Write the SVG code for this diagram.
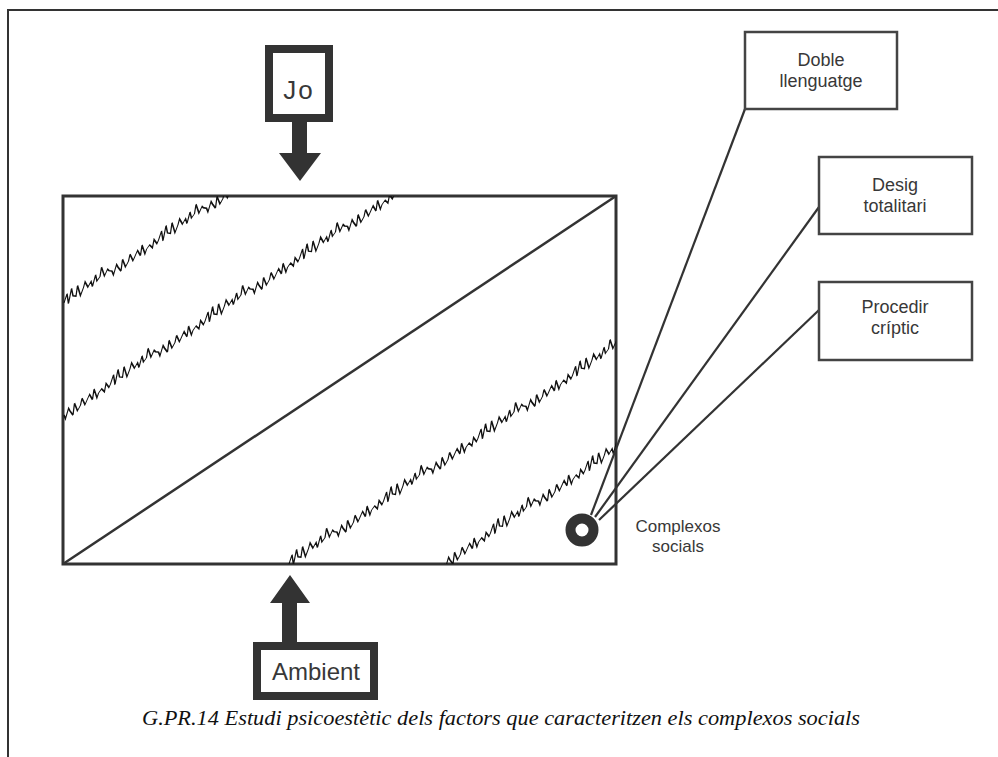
<svg xmlns="http://www.w3.org/2000/svg" width="998" height="757" viewBox="0 0 998 757">
<style>
.lbl{font-family:"Liberation Sans",Arial,sans-serif;fill:#383838;text-anchor:middle}
.thin{fill:#fff;stroke:#444;stroke-width:2.5}
.thick{fill:#fff;stroke:#333;stroke-width:8}
.arrow{fill:#333}
.conn{fill:none;stroke:#333;stroke-width:2.2}
.jag{fill:none;stroke:#111;stroke-width:0.9}
.cap{font-family:"Liberation Serif","Times New Roman",serif;font-style:italic;font-size:21px;fill:#111;text-anchor:middle}
</style>
<defs>
<clipPath id="rc"><rect x="63" y="196" width="553" height="368"/></clipPath>
</defs>
<rect width="998" height="757" fill="#fff"/>
<path d="M8,757 V10 H998" fill="none" stroke="#333" stroke-width="2"/>

<g id="frame">
<rect x="63" y="196" width="553" height="368" fill="none" stroke="#333" stroke-width="3"/>
<line x1="63" y1="564" x2="616" y2="196" stroke="#333" stroke-width="2.5"/>
<g clip-path="url(#rc)">
<path class="jag" transform="matrix(1.5,-0.998,0,1.2,64,303)" d="M0,0 l2,-6 1,9 2,-11 1,7 2,2 1,-8 2,10 2,-5 1,-4 2,6 2,-3 1,5 2,-8 1,6 2,-2 1,-7 2,9 2,-4 1,2 2,2 1,4 2,-7 1,3 2,5 1,-9 2,8 2,-3 1,-5 2,7 1,-2 2,-4 2,6 1,-8 2,9 1,-3 2,-2 2,4 1,-6 2,5 1,-2 2,-6 1,9 2,-11 1,7 2,2 1,-8 2,10 2,-5 1,-4 2,6 2,-3 1,5 2,-8 1,6 2,-2 1,-7 2,9 2,-4 1,2 2,2 1,4 2,-7 1,3 2,5 1,-9 2,8 2,-3 1,-5 2,7 1,-2 2,-4 2,6 1,-8 2,9 1,-3 2,-2 2,4 1,-6 2,5 1,-2"/>
<path class="jag" transform="matrix(1.5,-0.998,0,1.2,64,415)" d="M0,0 l1,4 2,-7 1,3 2,5 1,-9 2,8 2,-3 1,-5 2,7 1,-2 2,-4 2,6 1,-8 2,9 1,-3 2,-2 2,4 1,-6 2,5 1,-2 2,-6 1,9 2,-11 1,7 2,2 1,-8 2,10 2,-5 1,-4 2,6 2,-3 1,5 2,-8 1,6 2,-2 1,-7 2,9 2,-4 1,2 2,2 1,4 2,-7 1,3 2,5 1,-9 2,8 2,-3 1,-5 2,7 1,-2 2,-4 2,6 1,-8 2,9 1,-3 2,-2 2,4 1,-6 2,5 1,-2 2,-6 1,9 2,-11 1,7 2,2 1,-8 2,10 2,-5 1,-4 2,6 2,-3 1,5 2,-8 1,6 2,-2 1,-7 2,9 2,-4 1,2 2,2 1,4 2,-7 1,3 2,5 1,-9 2,8 2,-3 1,-5 2,7 1,-2 2,-4 2,6 1,-8 2,9 1,-3 2,-2 2,4 1,-6 2,5 1,-2 2,-6 1,9 2,-11 1,7 2,2 1,-8 2,10 2,-5 1,-4 2,6 2,-3 1,5 2,-8 1,6 2,-2 1,-7 2,9 2,-4 1,2 2,2 1,4 2,-7 1,3 2,5 1,-9 2,8 2,-3 1,-5 2,7 1,-2 2,-4 2,6 1,-8 2,9 1,-3 2,-2 2,4 1,-6 2,5 1,-2 2,-6 1,9 2,-11 1,7 2,2 1,-8 2,10 2,-5 1,-4 2,6 2,-3 1,5 2,-8 1,6 2,-2 1,-7 2,9 2,-4 1,2 2,2 1,4 2,-7 1,3 2,5 1,-9 2,8 2,-3 1,-5 2,7 1,-2 2,-4 2,6 1,-8 2,9 1,-3 2,-2 2,4 1,-6 2,5 1,-2"/>
<path class="jag" transform="matrix(1.5,-0.998,0,1.2,289,564)" d="M0,0 l2,-6 1,9 2,-11 1,7 2,2 1,-8 2,10 2,-5 1,-4 2,6 2,-3 1,5 2,-8 1,6 2,-2 1,-7 2,9 2,-4 1,2 2,2 1,4 2,-7 1,3 2,5 1,-9 2,8 2,-3 1,-5 2,7 1,-2 2,-4 2,6 1,-8 2,9 1,-3 2,-2 2,4 1,-6 2,5 1,-2 2,-6 1,9 2,-11 1,7 2,2 1,-8 2,10 2,-5 1,-4 2,6 2,-3 1,5 2,-8 1,6 2,-2 1,-7 2,9 2,-4 1,2 2,2 1,4 2,-7 1,3 2,5 1,-9 2,8 2,-3 1,-5 2,7 1,-2 2,-4 2,6 1,-8 2,9 1,-3 2,-2 2,4 1,-6 2,5 1,-2 2,-6 1,9 2,-11 1,7 2,2 1,-8 2,10 2,-5 1,-4 2,6 2,-3 1,5 2,-8 1,6 2,-2 1,-7 2,9 2,-4 1,2 2,2 1,4 2,-7 1,3 2,5 1,-9 2,8 2,-3 1,-5 2,7 1,-2 2,-4 2,6 1,-8 2,9 1,-3 2,-2 2,4 1,-6 2,5 1,-2 2,-6 1,9 2,-11 1,7 2,2 1,-8 2,10 2,-5 1,-4 2,6 2,-3 1,5 2,-8 1,6 2,-2 1,-7 2,9 2,-4 1,2 2,2 1,4 2,-7 1,3 2,5 1,-9 2,8 2,-3 1,-5 2,7 1,-2 2,-4 2,6 1,-8 2,9 1,-3 2,-2 2,4 1,-6 2,5 1,-2"/>
<path class="jag" transform="matrix(1.5,-0.998,0,1.2,444,564)" d="M0,0 l1,4 2,-7 1,3 2,5 1,-9 2,8 2,-3 1,-5 2,7 1,-2 2,-4 2,6 1,-8 2,9 1,-3 2,-2 2,4 1,-6 2,5 1,-2 2,-6 1,9 2,-11 1,7 2,2 1,-8 2,10 2,-5 1,-4 2,6 2,-3 1,5 2,-8 1,6 2,-2 1,-7 2,9 2,-4 1,2 2,2 1,4 2,-7 1,3 2,5 1,-9 2,8 2,-3 1,-5 2,7 1,-2 2,-4 2,6 1,-8 2,9 1,-3 2,-2 2,4 1,-6 2,5 1,-2 2,-6 1,9 2,-11 1,7 2,2 1,-8 2,10 2,-5 1,-4 2,6 2,-3 1,5 2,-8 1,6 2,-2 1,-7 2,9 2,-4 1,2 2,2"/>
</g>
</g>

<g id="connectors">
<line class="conn" x1="745" y1="109" x2="591" y2="515"/>
<line class="conn" x1="819" y1="207" x2="595" y2="517"/>
<line class="conn" x1="819" y1="310" x2="599" y2="520"/>
<path class="arrow" d="M292,121 H307 V153 H321 L300,181 L279,153 H292 Z"/>
<path class="arrow" d="M290,575 L310,603 H297 V643 H282 V603 H270 Z"/>
</g>

<g id="jo">
<rect class="thick" x="269" y="49" width="60" height="69"/>
<text class="lbl" x="299" y="99" font-size="26" letter-spacing="2">Jo</text>
</g>

<g id="ambient">
<rect class="thick" x="257" y="646" width="117" height="50"/>
<text class="lbl" x="316" y="680" font-size="24">Ambient</text>
</g>

<g id="doble">
<rect class="thin" x="745" y="32" width="152" height="77"/>
<text class="lbl" x="821" y="66" font-size="18">Doble</text>
<text class="lbl" x="821" y="87" font-size="18">llenguatge</text>
</g>

<g id="desig">
<rect class="thin" x="819" y="157" width="153" height="77"/>
<text class="lbl" x="895" y="191" font-size="18">Desig</text>
<text class="lbl" x="895" y="212" font-size="18">totalitari</text>
</g>

<g id="procedir">
<rect class="thin" x="819" y="282" width="153" height="78"/>
<text class="lbl" x="895" y="313" font-size="18">Procedir</text>
<text class="lbl" x="895" y="334" font-size="18">críptic</text>
</g>

<g id="complexos">
<circle cx="582" cy="530" r="11.5" fill="none" stroke="#333" stroke-width="10"/>
<text class="lbl" x="678" y="532" font-size="17">Complexos</text>
<text class="lbl" x="678" y="552" font-size="17">socials</text>
</g>

<text class="cap" x="501" y="725" textLength="718" lengthAdjust="spacingAndGlyphs">G.PR.14 Estudi psicoestètic dels factors que caracteritzen els complexos socials</text>
</svg>
